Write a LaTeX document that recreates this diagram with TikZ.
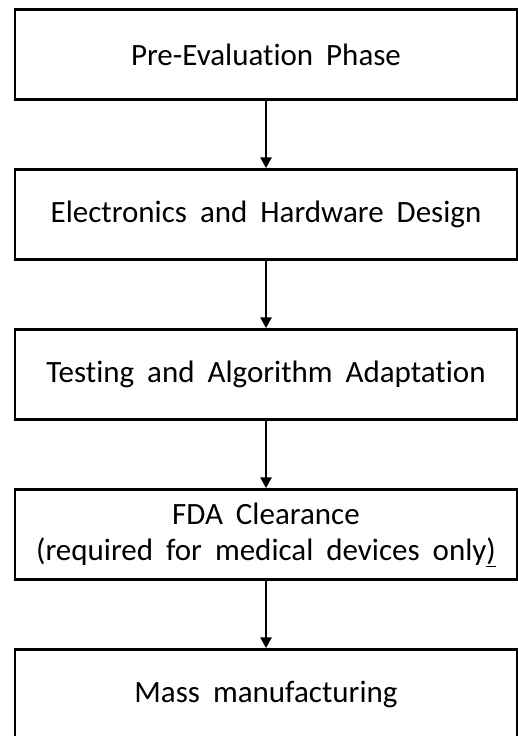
\documentclass[tikz,border=0pt]{standalone}
\usepackage{fontspec}
\setmainfont{Carlito}[Ligatures=NoCommon, WordSpace=1.85]
\usetikzlibrary{positioning,arrows.meta}
\tikzset{phase/.style={draw, line width=2.5pt, minimum width=502pt, minimum height=90pt, align=center, inner sep=0pt, font=\fontsize{31}{36}\selectfont},
  flow/.style={-{Triangle[length=11pt,width=11pt]}, line width=2.8pt}}

\begin{document}
\begin{tikzpicture}[x=1pt,y=1pt,node distance=67.5pt]
  \useasboundingbox (0,0) rectangle (518,-736);
  \clip (0,0) rectangle (518,-736);
  % phases
  \node[phase] (pre) at (266,-54.5) {Pre-Evaluation Phase};
  \node[phase, below=of pre] (design) {Electronics and Hardware Design};
  \node[phase, below=of design] (testing) {Testing and Algorithm Adaptation};
  \node[phase, below=of testing] (fda) {FDA Clearance\\(required for medical devices only\underline{)}};
  \node[phase, below=of fda] (mass) {Mass manufacturing};
  % arrows
  \draw[flow] (pre) -- (design);
  \draw[flow] (design) -- (testing);
  \draw[flow] (testing) -- (fda);
  \draw[flow] (fda) -- (mass);
\end{tikzpicture}
\end{document}
